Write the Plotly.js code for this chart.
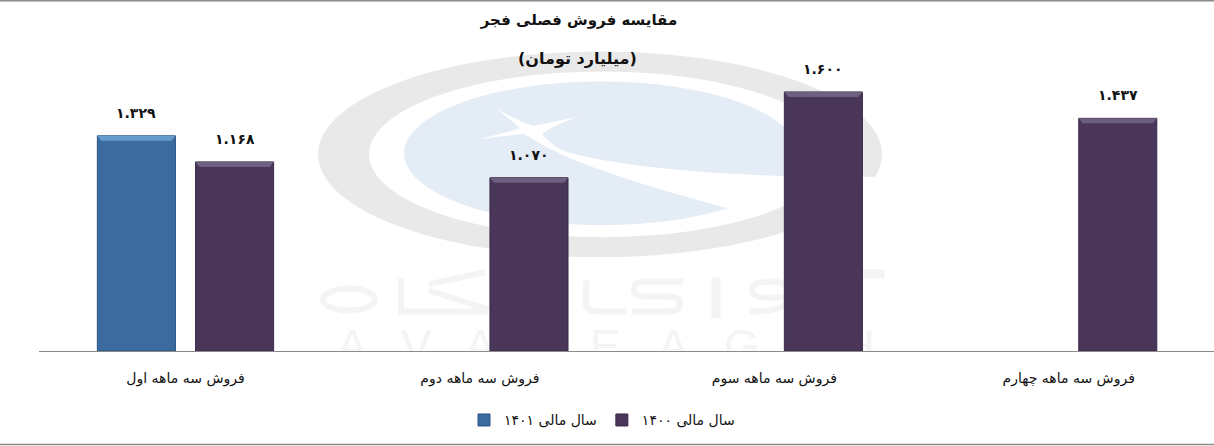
<!DOCTYPE html>
<html><head><meta charset="utf-8">
<script src="https://cdn.plot.ly/plotly-3.0.1.min.js"></script>
<style>html,body{margin:0;padding:0;background:#fff}#c{width:1214px;height:446px}</style></head>
<body><div id="c"></div>
<script>
const categories = ['فروش سه ماهه اول','فروش سه ماهه دوم','فروش سه ماهه سوم','فروش سه ماهه چهارم'];
const series1401 = [1329,null,null,null];
const series1400 = [1168,1070,1600,1437];
const labels1401 = ['۱.۳۲۹','','',''];
const labels1400 = ['۱.۱۶۸','۱.۰۷۰','۱.۶۰۰','۱.۴۳۷'];
const nameA = 'سال مالی ۱۴۰۱', nameB = 'سال مالی ۱۴۰۰';
const titleMain = 'مقایسه فروش فصلی فجر', titleSub = '(میلیارد تومان)';
const FONT = '"DejaVu Sans", sans-serif';

const W=1214,H=446,L=39,R=0,T=60,B=94.5;
const pw=W-L-R, ph=H-T-B;
const yMax=1600*ph/259.5;
const bargap=0.333, groupgap=0.205;
const slot=(1-bargap)/2, half=slot*(1-groupgap)/2;

const wmLetters=[['A',352],['V',416],['A',480],['Y',541],['E',605],['A',673],['G',742],['A',805],['H',858]];
const wm = `<svg xmlns="http://www.w3.org/2000/svg" width="${W}" height="${H}" viewBox="0 0 ${W} ${H}">
<defs><clipPath id="k"><rect x="0" y="0" width="${W}" height="351"/></clipPath></defs>
<ellipse cx="600" cy="154.5" rx="282" ry="103" fill="#e9e9e9"/>
<ellipse cx="602" cy="154.5" rx="233" ry="83" fill="#fff"/>
<ellipse cx="601" cy="153.5" rx="197" ry="72" fill="#e4ecf5"/>
<path d="M497,109 C512,117 522,123 533,126 C548,123 562,120 577,117 C560,123 548,129 542,134 C548,142 556,148 566,152 C640,172 760,178 884,177 L888,192 C840,198 790,205 725,208 C660,190 590,170 548,148 C535,141 530,137 523,134 C510,136 495,137 480,139 C495,135 510,132 520,128 C512,122 505,115 497,109Z" fill="#fff"/>
<g fill="none" stroke="#f4f4f4" stroke-width="6" stroke-linecap="square">
<ellipse cx="349" cy="300" rx="26" ry="11"/>
<path d="M401,282 V312 H485 M432,284 L482,273 M432,292 L486,309"/>
<path d="M500,274 H558 M528,282 V314" stroke-width="9"/>
<path d="M586,284 V305 Q586,312 600,312 H624"/>
<path d="M680,282 H645 Q634,282 634,290 Q634,297 645,297 H668 Q680,297 680,304 Q680,312 668,312 H635"/>
<path d="M716,282 V314" stroke-width="9"/>
<path d="M788,298 H765 Q752,298 752,290 Q752,282 770,282 Q790,282 790,295 Q790,312 752,312"/>
<path d="M814,274 H880 M844,282 V314" stroke-width="9"/>
</g>
<g clip-path="url(#k)" font-family="Liberation Sans" font-size="46" fill="#f4f4f4" text-anchor="middle">
${wmLetters.map(l=>`<text x="${l[1]}" y="363">${l[0]}</text>`).join('')}
</g></svg>`;

const bevel=(i,off,v,color)=>{
  const dy=5/ph*yMax, dx=4/294.4;
  const x0=i+off-half, x1=i+off+half;
  return {type:'path',xref:'x',yref:'y',layer:'above',line:{width:0},fillcolor:color,
    path:`M${x0},${v} L${x1},${v} L${x1-dx},${v-dy} L${x0+dx},${v-dy} Z`};
};
const shapes=[
 {type:'rect',xref:'paper',yref:'paper',x0:-L/pw,x1:1,y0:(ph+T-1.5)/ph,y1:(ph+T)/ph,fillcolor:'#8c8c8c',line:{width:0}},
 {type:'rect',xref:'paper',yref:'paper',x0:-L/pw,x1:1,y0:-B/ph,y1:(-B+1.5)/ph,fillcolor:'#8c8c8c',line:{width:0}}
];
const annotations=[
 {text:titleSub,xref:'paper',yref:'paper',x:(577-L)/pw,y:(ph+T-58)/ph,yanchor:'middle',showarrow:false,font:{family:FONT,size:16,color:'#111',weight:'bold'}}
];
categories.forEach((c,i)=>{
  if(series1401[i]!=null){
    shapes.push(bevel(i,-slot/2,series1401[i],'#659ccb'));
    annotations.push({x:i-slot/2,y:series1401[i],xref:'x',yref:'y',text:labels1401[i],showarrow:false,yshift:23,font:{family:FONT,size:14,color:'#111',weight:'bold'}});
  }
  if(series1400[i]!=null){
    shapes.push(bevel(i,slot/2,series1400[i],'#6d5f80'));
    annotations.push({x:i+slot/2,y:series1400[i],xref:'x',yref:'y',text:labels1400[i],showarrow:false,yshift:23,font:{family:FONT,size:14,color:'#111',weight:'bold'}});
  }
});

Plotly.newPlot('c',[
 {type:'bar',name:nameA,x:categories,y:series1401,marker:{color:'#3b6b9f',line:{color:'#2c5480',width:1}},hoverinfo:'skip'},
 {type:'bar',name:nameB,x:categories,y:series1400,marker:{color:'#4a3659',line:{color:'#3a2a48',width:1}},hoverinfo:'skip'}
],{
 width:W,height:H,margin:{l:L,r:R,t:T,b:B,pad:0},
 paper_bgcolor:'#fff',plot_bgcolor:'rgba(0,0,0,0)',
 barmode:'group',bargap:bargap,bargroupgap:groupgap,
 title:{text:titleMain,x:579/W,xanchor:'center',y:1-20/H,yanchor:'middle',font:{family:FONT,size:15,color:'#111',weight:'bold'}},
 xaxis:{type:'category',range:[-0.4976,3.4936],showgrid:false,showline:true,linecolor:'#8a8a8a',linewidth:1,zeroline:false,ticks:'outside',ticklen:14,tickcolor:'rgba(0,0,0,0)',tickfont:{family:FONT,size:14,color:'#111'}},
 yaxis:{range:[0,yMax],visible:false,fixedrange:true},
 showlegend:true,
 legend:{orientation:'h',x:(602-L)/pw,xanchor:'center',y:(-421+T+ph)/ph,yanchor:'middle',font:{family:FONT,size:14,color:'#111'},bgcolor:'rgba(0,0,0,0)'},
 images:[{source:'data:image/svg+xml;charset=utf-8,'+encodeURIComponent(wm),xref:'paper',yref:'paper',x:-L/pw,y:(ph+T)/ph,sizex:W/pw,sizey:H/ph,xanchor:'left',yanchor:'top',sizing:'stretch',layer:'below'}],
 shapes:shapes,annotations:annotations
},{displayModeBar:false,staticPlot:true});
</script></body></html>
